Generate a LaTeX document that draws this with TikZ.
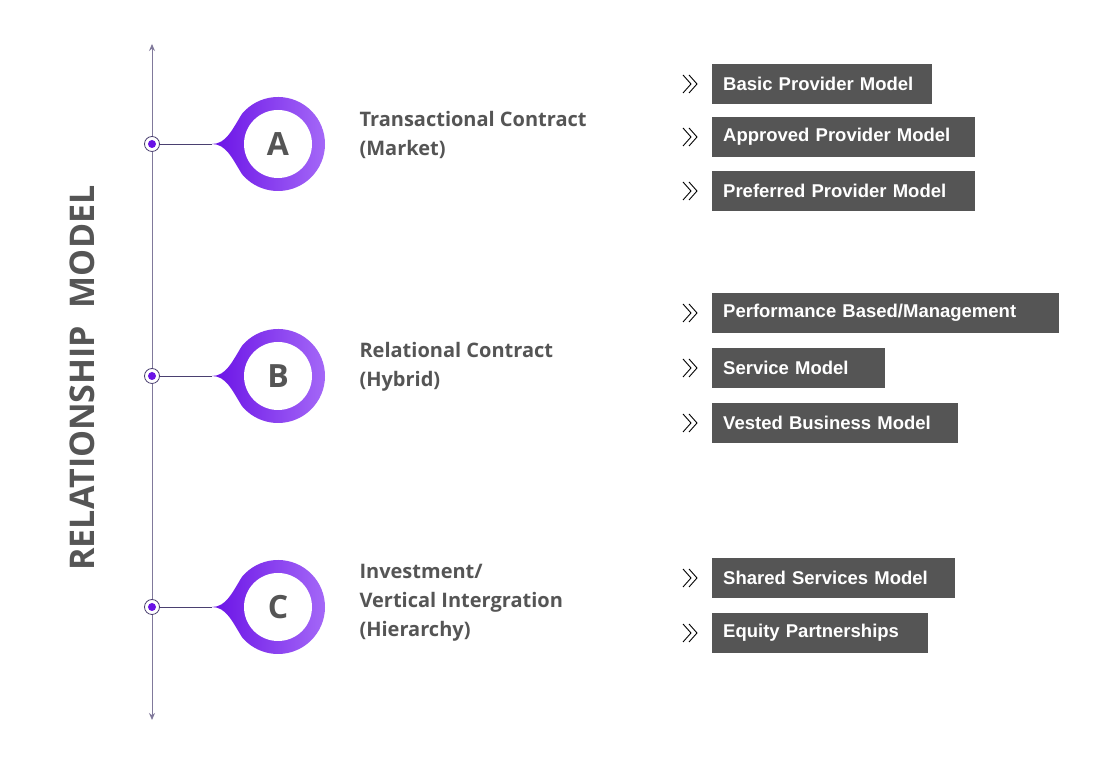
\documentclass[tikz,border=0pt]{standalone}
\usepackage{fontspec}
\setmainfont{Open Sans}
\newfontfamily\boxfont{Liberation Sans}
\usetikzlibrary{arrows.meta}
\begin{document}
\begin{tikzpicture}[x=1pt,y=1pt,
  box/.style={fill=boxgray,text=white,font=\boxfont\bfseries\fontsize{18.5}{20}\selectfont,anchor=west,minimum height=40,inner xsep=11,align=left},
  lbl/.style={anchor=north west,align=left,text=labgray,font=\fontsize{20}{29}\selectfont\bfseries},
  dotc/.style={circle,draw=axisc,fill=white,line width=0.8,minimum size=15,inner sep=0}]
\definecolor{boxgray}{HTML}{555555}
\definecolor{labgray}{HTML}{555555}
\definecolor{axisc}{HTML}{4A4070}
\definecolor{pdark}{HTML}{6A12E6}
\definecolor{plight}{HTML}{A76CF8}
\useasboundingbox (0,0) rectangle (1114,762);
\fill[white] (0,0) rectangle (1114,762);
\coordinate (top) at (152,718);
\coordinate (bot) at (152,42);
\draw[axisc!70,line width=1,-{Stealth[length=7,width=6]}] (152,400) -- (top);
\draw[axisc!70,line width=1,-{Stealth[length=7,width=6]}] (152,400) -- (bot);
\node[rotate=90,text=labgray,font=\fontsize{34}{36}\selectfont\bfseries] (title) at (82,384) {RELATIONSHIP\ \ MODEL};
\foreach \n/\y/\L in {A/618/A,B/386/B,C/155/C}{
  \node[dotc] (d\n) at (152,\y) {};
  \fill[pdark] (d\n) circle (4);
  \begin{scope}[shift={(278,\y)}]
   \shade[left color=pdark,right color=plight]
     (-66,0) .. controls (-52,0) and (-46,14) .. (140:47)
     arc[start angle=140,end angle=-140,radius=47]
     .. controls (-46,-14) and (-52,0) .. (-66,0) -- cycle;
   \fill[white] (0,0) circle (34);
   \coordinate (t\n) at (-66,0);
  \end{scope}
  \node[text=labgray,font=\fontsize{32}{32}\selectfont\bfseries] (p\n) at (278,\y) {\L};
  \draw[axisc,line width=0.8] (d\n) -- (t\n);
}
\node[lbl] (la) at (356,654) {Transactional Contract\\(Market)};
\node[lbl] (lb) at (356,423) {Relational Contract\\(Hybrid)};
\node[lbl] (lc) at (356,201) {Investment/\\Vertical Intergration\\(Hierarchy)};
\foreach \name/\y/\w/\t in {a1/678/220/{Basic Provider Model},a2/625/263/{Approved Provider Model},a3/571/263/{Preferred Provider Model},
  b1/449/347/{Performance Based/Management},b2/394/173/{Service Model},b3/339/246/{Vested Business Model},
  c1/184/243/{Shared Services Model},c2/129/216/{Equity Partnerships}}{
  \node[box,text width=\w-22] (\name) at (712,\y) {\t};
  \draw[black,line width=0.9] (683,\y+9) -- (691,\y) -- (683,\y-9) (689,\y+9) -- (697,\y) -- (689,\y-9);
}
\end{tikzpicture}
\end{document}
